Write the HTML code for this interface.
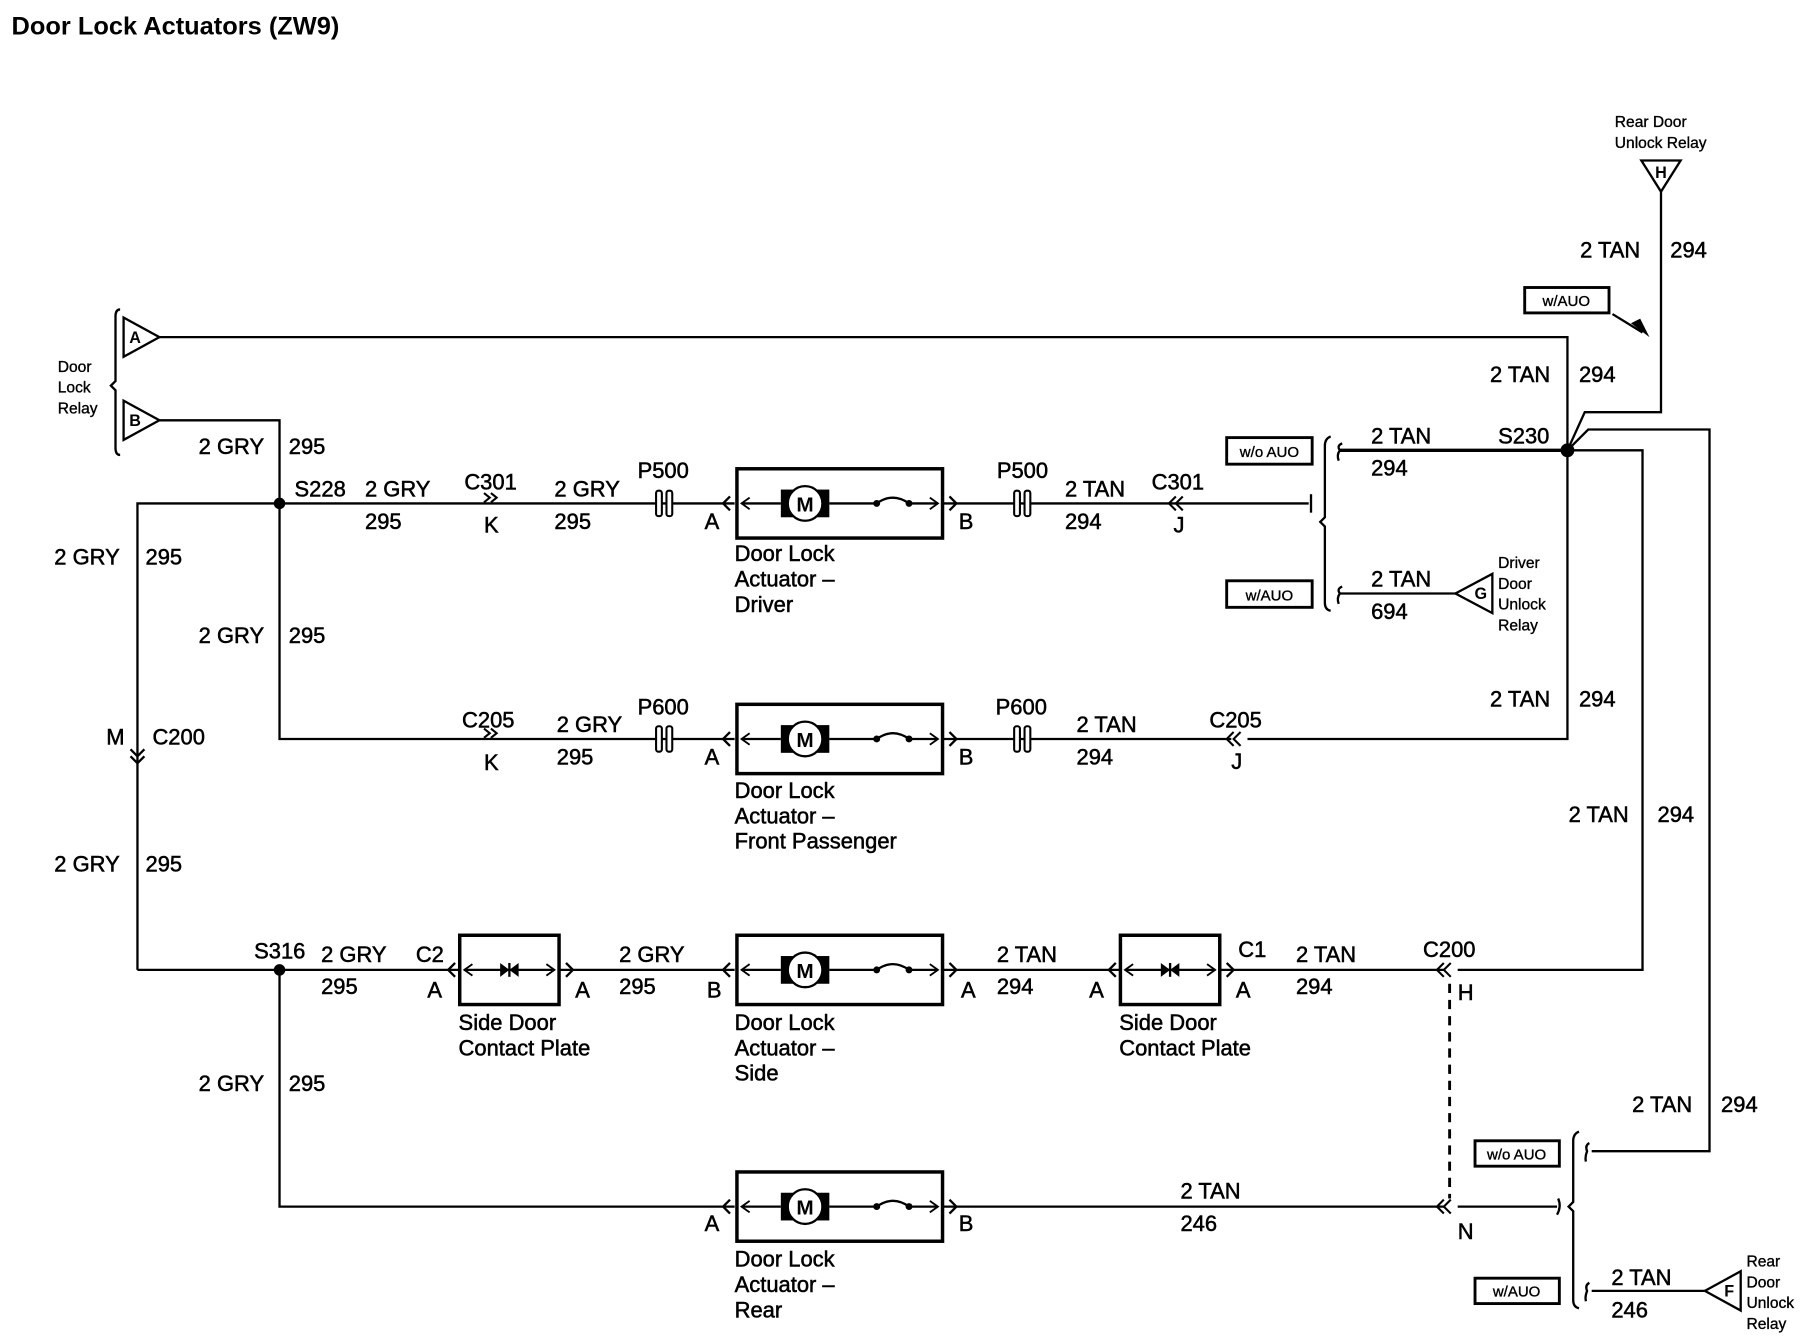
<!DOCTYPE html>
<html><head><meta charset="utf-8"><style>
html,body{margin:0;padding:0;background:#fff}
svg{display:block}
text{font-family:"Liberation Sans",Arial,sans-serif;fill:#000}
.l{font-size:19px;stroke:#000;stroke-width:0.45}
.s{font-size:13.5px;stroke:#000;stroke-width:0.3}
.b{font-size:13px;stroke:#000;stroke-width:0.3}
.t{font-size:14px;font-weight:bold}
</style></head><body>
<svg width="1810" height="1344" viewBox="0 0 1567 1164" preserveAspectRatio="none" xmlns="http://www.w3.org/2000/svg">
<defs>
<g id="act">
<rect x="0" y="-30" width="178" height="60" fill="none" stroke="#000" stroke-width="3"/>
<line x1="4" y1="0" x2="38" y2="0" stroke="#000" stroke-width="2"/>
<polyline points="11,-5 4,0 11,5" fill="none" stroke="#000" stroke-width="1.6"/>
<rect x="38" y="-12" width="42" height="24" fill="#000"/>
<circle cx="59" cy="0" r="15" fill="#fff" stroke="#000" stroke-width="2"/>
<text x="59" y="7" font-size="18" text-anchor="middle" font-family="Liberation Sans" font-weight="bold">M</text>
<line x1="80" y1="0" x2="120" y2="0" stroke="#000" stroke-width="2"/>
<circle cx="121" cy="0" r="3"/><circle cx="149" cy="0" r="3"/>
<path d="M121,0 Q135,-10 149,0" fill="none" stroke="#000" stroke-width="2"/>
<line x1="149" y1="0" x2="174" y2="0" stroke="#000" stroke-width="2"/>
<polyline points="167,-5 174,0 167,5" fill="none" stroke="#000" stroke-width="1.6"/>
</g>
<g id="plate">
<rect x="0" y="-30" width="86" height="60" fill="none" stroke="#000" stroke-width="3"/>
<line x1="4" y1="0" x2="82" y2="0" stroke="#000" stroke-width="2"/>
<polyline points="11,-5 4,0 11,5" fill="none" stroke="#000" stroke-width="1.6"/>
<polyline points="75,-5 82,0 75,5" fill="none" stroke="#000" stroke-width="1.6"/>
<polygon points="35,-6 43,0 35,6"/><polygon points="51,-6 43,0 51,6"/>
<line x1="43" y1="-6" x2="43" y2="6" stroke="#000" stroke-width="2"/>
</g>
<g id="fuse">
<rect x="-7" y="-11" width="5" height="22" rx="2" fill="#fff" stroke="#000" stroke-width="1.8"/>
<rect x="2" y="-11" width="5" height="22" rx="2" fill="#fff" stroke="#000" stroke-width="1.8"/>
</g>
<g id="cR"><polyline points="-5,-9 0,-5 -5,-1" fill="none" stroke="#000" stroke-width="1.8"/><polyline points="1,-9 6,-5 1,-1" fill="none" stroke="#000" stroke-width="1.8"/></g>
<g id="cL"><polyline points="0,-6 -6,0 0,6" fill="none" stroke="#000" stroke-width="1.8"/><polyline points="6,-6 0,0 6,6" fill="none" stroke="#000" stroke-width="1.8"/></g>
</defs>

<text x="10" y="30" font-size="22" font-weight="bold">Door Lock Actuators (ZW9)</text>

<g stroke="#000" stroke-width="2" fill="none">
<path d="M104,268 Q100,268 100,274 L100,330 L96,334 L100,338 L100,388 Q100,394 104,394"/>
<polygon points="107,275 107,309 138,292" fill="#fff"/>
<polygon points="107,347 107,381 138,364" fill="#fff"/>
<polyline points="138,292 1357,292 1357,640 1080,640"/>
<polyline points="138,364 242,364 242,640 636,640"/>
<polyline points="119,840 119,436 636,436"/>
<line x1="816" y1="436" x2="1133" y2="436"/>
<line x1="816" y1="640" x2="1066" y2="640"/>
<polyline points="119,840 398,840"/>
<line x1="484" y1="840" x2="636" y2="840"/>
<line x1="816" y1="840" x2="970" y2="840"/>
<line x1="1056" y1="840" x2="1250" y2="840"/>
<polyline points="1262,840 1422,840 1422,390 1357,390"/>
<polyline points="242,840 242,1045 636,1045"/>
<line x1="816" y1="1045" x2="1250" y2="1045"/>
<line x1="1262" y1="1045" x2="1348" y2="1045"/>
<line x1="1255" y1="852" x2="1255" y2="1038" stroke-dasharray="8,6" stroke-width="2.5"/>
<line x1="1160" y1="390" x2="1357" y2="390" stroke-width="3"/>
<polyline points="1357,390 1372,357 1438,357 1438,166"/>
<polyline points="1357,390 1375,372 1480,372 1480,997 1378,997"/>
<line x1="1160" y1="514" x2="1260" y2="514"/>
<polygon points="1260,514 1292,497 1292,531" fill="#fff"/>
<polygon points="1421,139 1455,139 1438,166" fill="#fff"/>
<line x1="1378" y1="1118" x2="1476" y2="1118"/>
<polygon points="1476,1118 1507,1101 1507,1135" fill="#fff"/>
<line x1="1396" y1="272" x2="1422" y2="288"/>
<path d="M1152,378 Q1147,380 1147,386 L1147,448 L1143,452 L1147,456 L1147,522 Q1147,528 1152,529"/>
<path d="M1162,384 Q1157,386 1160,390 Q1157,394 1159,399"/>
<path d="M1162,508 Q1157,510 1160,514 Q1157,518 1159,523"/>
<path d="M1135,428 L1135,444"/>
<path d="M1367,980 Q1362,982 1362,988 L1362,1041 L1358,1045 L1362,1049 L1362,1126 Q1362,1132 1367,1133"/>
<path d="M1376,990 Q1372,992 1374,997 Q1372,1002 1373,1006"/>
<path d="M1376,1111 Q1372,1113 1374,1118 Q1372,1123 1373,1127"/>
<path d="M1349,1038 Q1352,1045 1348,1052"/>
<rect x="1062" y="379" width="74" height="23" stroke-width="2.5"/>
<rect x="1062" y="503" width="74" height="23" stroke-width="2.5"/>
<rect x="1320" y="249" width="73" height="22" stroke-width="2.5"/>
<rect x="1277" y="988" width="73" height="22" stroke-width="2.5"/>
<rect x="1277" y="1107" width="73" height="22" stroke-width="2.5"/>
<polyline points="632,430 626,436 632,442"/>
<polyline points="822,430 828,436 822,442"/>
<polyline points="632,634 626,640 632,646"/>
<polyline points="822,634 828,640 822,646"/>
<polyline points="394,834 388,840 394,846"/>
<polyline points="490,834 496,840 490,846"/>
<polyline points="632,834 626,840 632,846"/>
<polyline points="822,834 828,840 822,846"/>
<polyline points="966,834 960,840 966,846"/>
<polyline points="1062,834 1068,840 1062,846"/>
<polyline points="632,1039 626,1045 632,1051"/>
<polyline points="822,1039 828,1045 822,1051"/>
<polyline points="113,649 119,655 125,649"/><polyline points="113,655 119,661 125,655"/>
</g>
<polygon points="1412,280 1428,292 1420,276"/>
<circle cx="242" cy="436" r="5"/><circle cx="1357" cy="390" r="6"/><circle cx="242" cy="840" r="5"/>
<use href="#act" x="638" y="436"/><use href="#act" x="638" y="640"/><use href="#act" x="638" y="840"/><use href="#act" x="638" y="1045"/>
<use href="#plate" x="398" y="840"/><use href="#plate" x="970" y="840"/>
<use href="#fuse" x="575" y="436"/><use href="#fuse" x="885" y="436"/><use href="#fuse" x="575" y="640"/><use href="#fuse" x="885" y="640"/>
<use href="#cR" x="424" y="436"/><use href="#cR" x="424" y="640"/>
<use href="#cL" x="1018" y="436"/><use href="#cL" x="1068" y="640"/>
<use href="#cL" x="1250" y="840"/><use href="#cL" x="1250" y="1045"/>

<g class="l">
<text x="172" y="393">2 GRY</text><text x="250" y="393">295</text>
<text x="255" y="430">S228</text><text x="316" y="430">2 GRY</text><text x="316" y="458">295</text>
<text x="402" y="424">C301</text><text x="419" y="461">K</text>
<text x="480" y="430">2 GRY</text><text x="480" y="458">295</text>
<text x="552" y="414">P500</text><text x="610" y="458">A</text><text x="830" y="458">B</text>
<text x="863" y="414">P500</text><text x="922" y="430">2 TAN</text><text x="922" y="458">294</text>
<text x="997" y="424">C301</text><text x="1016" y="461">J</text>
<text x="636" y="486">Door Lock</text><text x="636" y="508">Actuator –</text><text x="636" y="530">Driver</text>
<text x="47" y="489">2 GRY</text><text x="126" y="489">295</text>
<text x="172" y="557">2 GRY</text><text x="250" y="557">295</text>
<text x="92" y="645">M</text><text x="132" y="645">C200</text>
<text x="400" y="630">C205</text><text x="419" y="667">K</text>
<text x="482" y="634">2 GRY</text><text x="482" y="662">295</text>
<text x="552" y="619">P600</text><text x="610" y="662">A</text><text x="830" y="662">B</text>
<text x="862" y="619">P600</text><text x="932" y="634">2 TAN</text><text x="932" y="662">294</text>
<text x="1047" y="630">C205</text><text x="1066" y="666">J</text>
<text x="636" y="691">Door Lock</text><text x="636" y="713">Actuator –</text><text x="636" y="735">Front Passenger</text>
<text x="47" y="755">2 GRY</text><text x="126" y="755">295</text>
<text x="220" y="830">S316</text><text x="278" y="833">2 GRY</text><text x="278" y="861">295</text>
<text x="360" y="833">C2</text><text x="370" y="864">A</text>
<text x="397" y="892">Side Door</text><text x="397" y="914">Contact Plate</text>
<text x="498" y="864">A</text><text x="536" y="833">2 GRY</text><text x="536" y="861">295</text><text x="612" y="864">B</text>
<text x="636" y="892">Door Lock</text><text x="636" y="914">Actuator –</text><text x="636" y="936">Side</text>
<text x="832" y="864">A</text><text x="863" y="833">2 TAN</text><text x="863" y="861">294</text><text x="943" y="864">A</text>
<text x="969" y="892">Side Door</text><text x="969" y="914">Contact Plate</text>
<text x="1072" y="829">C1</text><text x="1070" y="864">A</text>
<text x="1122" y="833">2 TAN</text><text x="1122" y="861">294</text>
<text x="1232" y="829">C200</text><text x="1262" y="866">H</text>
<text x="172" y="945">2 GRY</text><text x="250" y="945">295</text>
<text x="610" y="1066">A</text><text x="830" y="1066">B</text>
<text x="636" y="1097">Door Lock</text><text x="636" y="1119">Actuator –</text><text x="636" y="1141">Rear</text>
<text x="1022" y="1038">2 TAN</text><text x="1022" y="1066">246</text>
<text x="1262" y="1073">N</text>
<text x="1187" y="384">2 TAN</text><text x="1187" y="412">294</text><text x="1297" y="384">S230</text>
<text x="1187" y="508">2 TAN</text><text x="1187" y="536">694</text>
<text x="1368" y="223">2 TAN</text><text x="1446" y="223">294</text>
<text x="1290" y="331">2 TAN</text><text x="1367" y="331">294</text>
<text x="1290" y="612">2 TAN</text><text x="1367" y="612">294</text>
<text x="1358" y="712">2 TAN</text><text x="1435" y="712">294</text>
<text x="1413" y="963">2 TAN</text><text x="1490" y="963">294</text>
<text x="1395" y="1113">2 TAN</text><text x="1395" y="1141">246</text>
</g>
<g class="s">
<text x="50" y="322">Door</text><text x="50" y="340">Lock</text><text x="50" y="358">Relay</text>
<text x="1398" y="110">Rear Door</text><text x="1398" y="128">Unlock Relay</text>
<text x="1297" y="492">Driver</text><text x="1297" y="510">Door</text><text x="1297" y="528">Unlock</text><text x="1297" y="546">Relay</text>
<text x="1512" y="1097">Rear</text><text x="1512" y="1115">Door</text><text x="1512" y="1133">Unlock</text><text x="1512" y="1151">Relay</text>
</g>
<g class="b" text-anchor="middle">
<text x="1099" y="396">w/o AUO</text><text x="1099" y="520">w/AUO</text>
<text x="1356" y="265">w/AUO</text><text x="1313" y="1004">w/o AUO</text><text x="1313" y="1123">w/AUO</text>
</g>
<g class="t" text-anchor="middle">
<text x="117" y="297">A</text><text x="117" y="369">B</text>
<text x="1282" y="519">G</text><text x="1438" y="154">H</text><text x="1497" y="1123">F</text>
</g>
</svg>
</body></html>
